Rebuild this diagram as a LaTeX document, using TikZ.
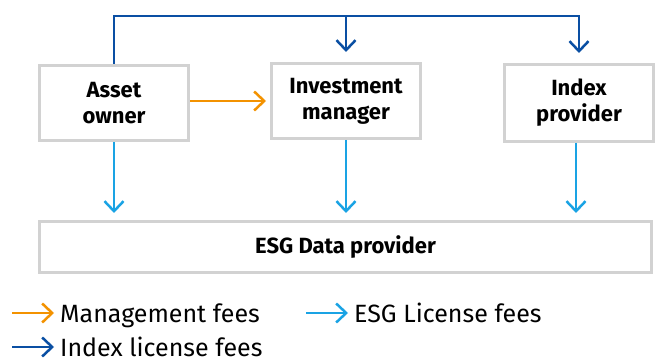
\documentclass[tikz,border=0pt]{standalone}
\usepackage{fontspec}
\setmainfont{Fira Sans}
\usetikzlibrary{arrows.meta}
\definecolor{boxgray}{HTML}{D2D2D2}
\definecolor{mgmtorange}{HTML}{F39200}
\definecolor{idxblue}{HTML}{0A4FA3}
\definecolor{esgblue}{HTML}{1AA3E4}
\tikzset{
  entity/.style={draw=boxgray, line width=3pt, fill=white, minimum width=149pt,
    minimum height=75pt, align=center, font=\fontsize{22}{26}\selectfont\bfseries, inner sep=0pt},
  chev/.style={-{Straight Barb[length=10pt,width=19pt,line width=2.5pt]}},
  mgmt/.style={chev, draw=mgmtorange, line width=2.5pt},
  idx/.style={chev, draw=idxblue, line width=2.5pt},
  esgfee/.style={chev, draw=esgblue, line width=2.5pt},
  legtext/.style={font=\fontsize{25}{30}\selectfont, inner sep=0pt, anchor=base west},
}
\begin{document}
\begin{tikzpicture}[x=1pt,y=-1pt]
\useasboundingbox (0,0) rectangle (661,363);
\node[entity] (ao) at (114,103) {Asset\\owner};
\node[entity] (im) at (346,101) {Investment\\manager};
\node[entity, minimum height=77pt] (ip) at (579,103) {Index\\provider};
\node[entity, minimum width=612pt, minimum height=51pt, font=\fontsize{22}{26}\selectfont\bfseries] (esg) at (345.5,247) {ESG Data provider};
\coordinate (top) at (0,16);
% index license fees
\draw[idx, shorten >=10pt] (ao.north) -- (ao.north |- top) -- (ip.north |- top) -- (ip.north);
\draw[idx, shorten >=10pt] (im.north |- top) -- (im.north);
% management fees
\draw[mgmt, shorten >=4pt] (ao.east |- im.west) -- (im.west);
% ESG license fees
\draw[esgfee, shorten >=7pt] (ao.south) -- (ao.south |- esg.north);
\draw[esgfee, shorten >=7pt] (im.south) -- (im.south |- esg.north);
\draw[esgfee, shorten >=7pt] ([xshift=-3pt]ip.south) -- ([xshift=-3pt]ip.south |- esg.north);
% legend
\node[legtext] (lm) at (60,323) {Management fees};
\node[legtext] (le) at (354,323) {ESG License fees};
\node[legtext] (li) at (60,356) {Index license fees};
\coordinate (lm0) at (12,313); \coordinate (lm1) at (54,313);
\coordinate (le0) at (306,313); \coordinate (le1) at (348,313);
\coordinate (li0) at (12,347); \coordinate (li1) at (54,347);
\draw[mgmt] (lm0) -- (lm1);
\draw[esgfee] (le0) -- (le1);
\draw[idx] (li0) -- (li1);
\end{tikzpicture}
\end{document}
